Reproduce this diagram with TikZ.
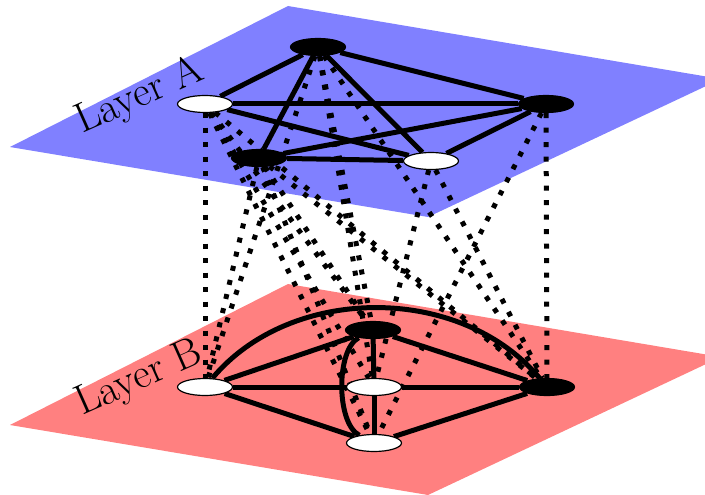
\documentclass[tikz,border=0pt]{standalone}
\usepackage{fontspec}
\usetikzlibrary{shapes.geometric}
\definecolor{planeA}{RGB}{128,128,255}
\definecolor{planeB}{RGB}{255,128,128}
\pgfdeclarelayer{planes}
\pgfdeclarelayer{links}
\pgfsetlayers{planes,links,main}
\begin{document}
\begin{tikzpicture}[x=1pt,y=-1pt,
  vtx/.style={ellipse,draw=black,line width=1.2pt,minimum width=55pt,minimum height=17pt,inner sep=0pt},
  wvtx/.style={vtx,fill=white},
  bvtx/.style={vtx,fill=black},
  solidedge/.style={line width=5pt},
  interedge/.style={line width=5pt,dash pattern=on 5pt off 9.5pt},
  layerlabel/.style={anchor=base west,rotate=24,inner sep=0pt,font=\fontsize{42}{48}\selectfont}]
\useasboundingbox (0,0) rectangle (705,495);
% nodes
\node[bvtx] (A1) at (318,47) {};
\node[wvtx] (A2) at (205,104) {};
\node[bvtx] (A3) at (546,104) {};
\node[bvtx] (A4) at (259,158) {};
\node[wvtx] (A5) at (431,161) {};
\node[bvtx] (B1) at (373,330) {};
\node[wvtx] (B2) at (205,387) {};
\node[wvtx] (B3) at (374,387) {};
\node[bvtx] (B4) at (547,387) {};
\node[wvtx] (B5) at (374,443) {};
\begin{pgfonlayer}{planes}
  \clip (0,0) rectangle (705,495);
  \fill[planeA] (10,147) -- (288,6) -- (721,79) -- (428,217) -- cycle;
  \fill[planeB] (10,425) -- (288,284) -- (721,357) -- (428,495) -- cycle;
\end{pgfonlayer}
\begin{pgfonlayer}{links}
  \node[layerlabel] (LA) at (82,134) {Layer A};
  \node[layerlabel] (LB) at (82,416) {Layer B};
  % inter-layer links
  \foreach \a/\b in {A1/B1,A1/B2,A1/B3,A1/B4,
                     A2/B1,A2/B2,A2/B3,A2/B4,A2/B5,
                     A3/B4,A3/B5,
                     A4/B1,A4/B2,A4/B4,A4/B5,
                     A5/B3,A5/B4}
    \draw[interedge] (\a) -- (\b);
  % layer A
  \foreach \a/\b in {A1/A2,A1/A3,A1/A4,A1/A5,A2/A3,A2/A5,A3/A4,A3/A5,A4/A5}
    \draw[solidedge] (\a) -- (\b);
  % layer B
  \foreach \a/\b in {B2/B1,B2/B3,B2/B5,B1/B4,B3/B4,B5/B4,B1/B3,B3/B5}
    \draw[solidedge] (\a) -- (\b);
  \draw[solidedge] (B2) .. controls (291,284) and (461,284) .. (B4);
  \draw[solidedge] (B1) .. controls (336,350) and (336,423) .. (B5);
\end{pgfonlayer}
\end{tikzpicture}
\end{document}
